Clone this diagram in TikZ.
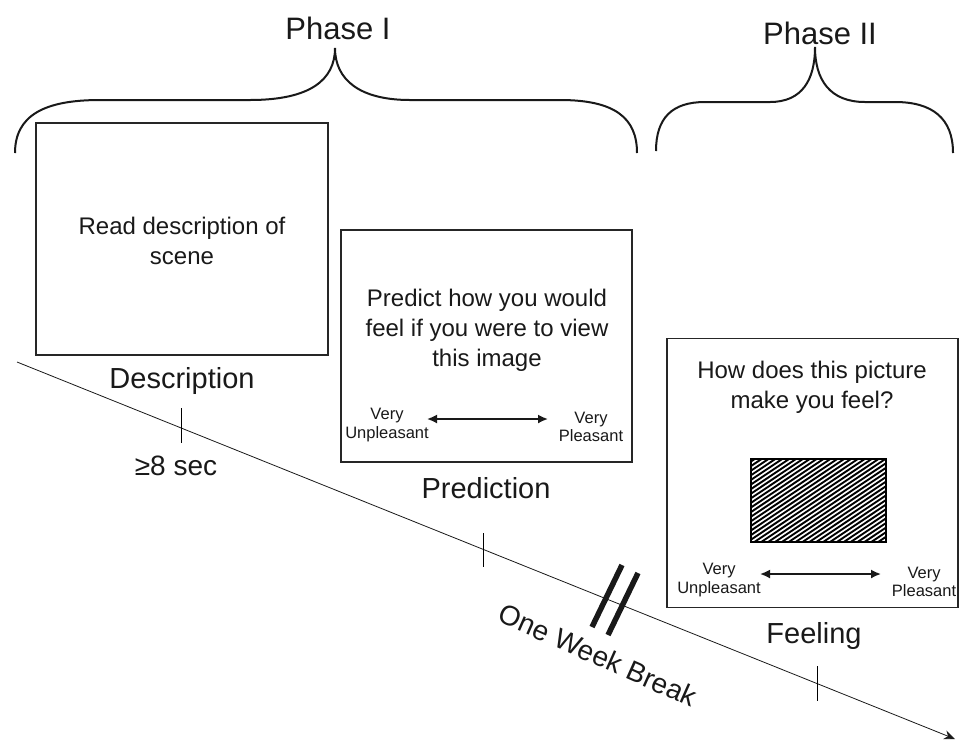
\documentclass[tikz,border=0pt]{standalone}
\usepackage{fontspec}
\setmainfont{Liberation Sans}
\usetikzlibrary{arrows.meta}
\tikzset{
  box/.style={draw=black!85, line width=1.3pt, minimum width=#1, inner sep=0pt},
  brace/.style={draw=black!90, line width=2pt},
  tick/.style={draw=black, line width=0.9pt},
  lbl/.style={font=\fontsize{29}{34}\selectfont, text=black!90, inner sep=0pt},
  btxt/.style={font=\fontsize{24}{30}\selectfont, text=black!90, align=center, inner sep=0pt},
  small/.style={font=\fontsize{16.5}{18.5}\selectfont, text=black!90, align=center, inner sep=0pt},
  dbl/.style={{Latex[length=10pt,width=9pt]}-{Latex[length=10pt,width=9pt]}, line width=1.7pt, black!90},
}
\begin{document}
\begin{tikzpicture}[x=1pt,y=-1pt]
\useasboundingbox (0,0) rectangle (963,740);

% Phase labels and braces
\node[lbl, font=\fontsize{31}{36}\selectfont] (ph1) at (338,28) {Phase I};
\node[lbl, font=\fontsize{31}{36}\selectfont] (ph2) at (820,33) {Phase II};
\draw[brace] (15,153) .. controls (15,115) and (45,100) .. (100,100) -- (250,100)
   .. controls (310,100) and (335,80) .. (335,48)
   .. controls (335,80) and (360,100) .. (410,100) -- (560,100)
   .. controls (615,100) and (637,118) .. (637,153);
\draw[brace] (656,151) .. controls (656,118) and (672,102) .. (705,102) -- (770,102)
   .. controls (802,102) and (815,80) .. (815,47)
   .. controls (815,80) and (830,102) .. (865,102) -- (895,102)
   .. controls (932,102) and (953,118) .. (953,153);

% Timeline
\coordinate (t0) at (17,362);
\coordinate (t1) at (955,739);
\draw[line width=0.8pt, black!90, -{Stealth[length=11pt,width=9pt]}] (t0) -- (t1);
\coordinate (k1a) at (181,408); \coordinate (k1b) at (181,443);
\coordinate (k2a) at (483,533); \coordinate (k2b) at (483,567);
\coordinate (k3a) at (817,666); \coordinate (k3b) at (817,701);
\draw[tick] (k1a) -- (k1b);
\draw[tick] (k2a) -- (k2b);
\draw[tick] (k3a) -- (k3b);
\coordinate (b1a) at (622,565); \coordinate (b1b) at (592,627);
\coordinate (b2a) at (638,573); \coordinate (b2b) at (608,635);
\draw[line width=5.5pt, black!90] (b1a) -- (b1b);
\draw[line width=5.5pt, black!90] (b2a) -- (b2b);
\node[font=\fontsize{28}{32}\selectfont, text=black!90, rotate=-24, inner sep=0pt] (owb) at (598,655) {One Week Break};

% Description
\node[box=292pt, minimum height=232pt] (dbox) at (182,239) {};
\node[btxt] (dtxt) at (182,241) {Read description of\\scene};
\node[lbl] (dlab) at (182,381) {Description};
\node[font=\fontsize{28}{32}\selectfont, text=black!90, inner sep=0pt] (sec) at (176,466) {≥8 sec};

% Prediction
\node[box=291pt, minimum height=232pt] (pbox) at (486.5,346) {};
\node[btxt] (ptxt) at (487,330) {Predict how you would\\feel if you were to view\\this image};
\node[small] (pl) at (387,425) {Very\\Unpleasant};
\node[small] (pr) at (591,427) {Very\\Pleasant};
\coordinate (pa0) at (427,419); \coordinate (pa1) at (548,419);
\draw[dbl] (pa0) -- (pa1);
\node[lbl] (plab) at (486,488) {Prediction};

% Feeling
\node[box=291pt, minimum height=269pt] (fbox) at (812.5,473) {};
\node[btxt] (ftxt) at (812,387) {How does this picture\\make you feel?};
\node[small] (fl) at (719,580) {Very\\Unpleasant};
\node[small] (fr) at (924,582) {Very\\Pleasant};
\coordinate (fa0) at (760,574); \coordinate (fa1) at (881,574);
\draw[dbl] (fa0) -- (fa1);
\begin{scope}
  \clip (751,459) rectangle (886,542);
  \fill[white] (751,459) rectangle (886,542);
  \foreach \y in {455,459.6,...,660} {
    \draw[line width=1.9pt, black] (740,\y) -- (900,\y-107);
  }
\end{scope}
\node[draw=black, line width=1.5pt, minimum width=135pt, minimum height=83pt, inner sep=0pt] (pic) at (818.5,500.5) {};
\node[lbl] (flab) at (814,636) {Feeling};
\end{tikzpicture}
\end{document}
